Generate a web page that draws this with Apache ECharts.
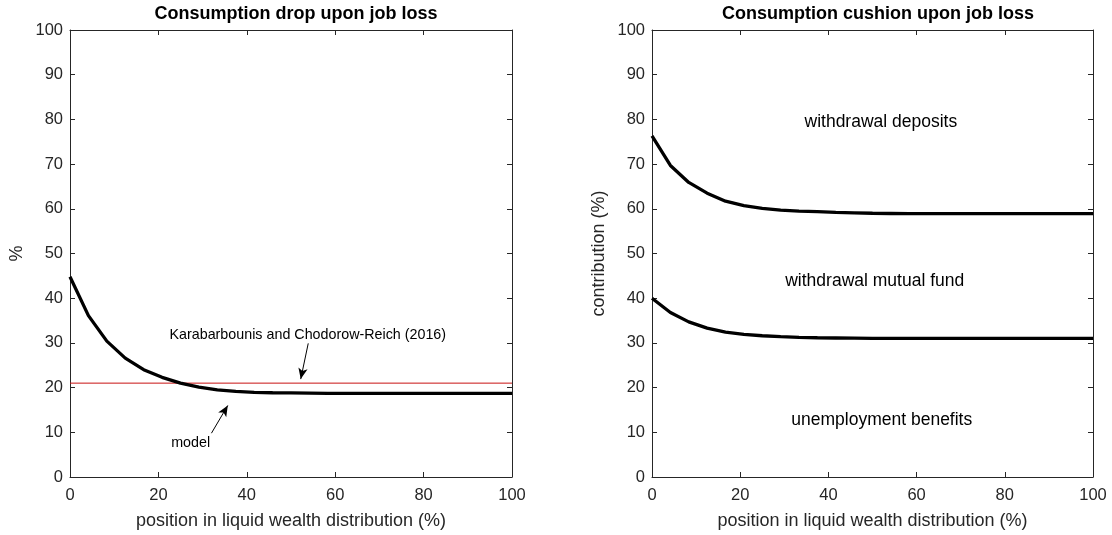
<!DOCTYPE html>
<html>
<head>
<meta charset="utf-8">
<script src="https://cdn.jsdelivr.net/npm/echarts@6/dist/echarts.min.js"></script>
<style>
  html, body { margin: 0; padding: 0; background: #fff; }
  #chart { width: 1112px; height: 535px; }
</style>
</head>
<body>
<div id="chart"></div>
<script>
// Position in the liquid wealth distribution (%)
const positions = [0, 4.17, 8.33, 12.5, 16.67, 20.83, 25, 29.17, 33.33, 37.5, 41.67, 45.83,
  50, 54.17, 58.33, 62.5, 66.67, 70.83, 75, 79.17, 83.33, 87.5, 91.67, 95.83, 100];

// Model consumption drop upon job loss (%)
const consumptionDrop = [44.8, 36.1, 30.4, 26.6, 24.0, 22.3, 21.0, 20.1, 19.5, 19.15, 18.95, 18.85,
  18.8, 18.75, 18.7, 18.7, 18.7, 18.7, 18.7, 18.7, 18.7, 18.7, 18.7, 18.7, 18.7];

// Empirical estimate, Karabarbounis and Chodorow-Reich (2016)
const empiricalDrop = 21;

// Cumulative contributions to the consumption cushion (%)
// upper boundary: benefits + mutual fund withdrawals; lower boundary: benefits
const cushionUpper = [76.3, 69.7, 65.9, 63.5, 61.7, 60.7, 60.1, 59.7, 59.5, 59.35, 59.2, 59.1,
  59.0, 58.95, 58.9, 58.9, 58.9, 58.9, 58.9, 58.9, 58.9, 58.9, 58.9, 58.9, 58.9];
const cushionLower = [40.0, 36.8, 34.7, 33.3, 32.4, 31.9, 31.6, 31.4, 31.25, 31.15, 31.1, 31.05,
  31.0, 31.0, 31.0, 31.0, 31.0, 31.0, 31.0, 31.0, 31.0, 31.0, 31.0, 31.0, 31.0];

const xTicks = [0, 20, 40, 60, 80, 100];
const yTicks = [0, 10, 20, 30, 40, 50, 60, 70, 80, 90, 100];

// Annotations: [x, y, text]
const dropNotes = [
  [53.8, 31.8, 'Karabarbounis and Chodorow-Reich (2016)'],
  [27.3, 7.6, 'model']
];
// Arrows: [fromX, fromY, toX, toY]
const dropArrows = [
  [53.9, 29.9, 52.2, 21.9],
  [32.0, 9.8, 35.7, 16.0]
];
const cushionNotes = [
  [51.9, 79.4, 'withdrawal deposits'],
  [50.5, 43.8, 'withdrawal mutual fund'],
  [52.1, 12.75, 'unemployment benefits']
];

const FONT = '"Liberation Sans", Arial, Helvetica, sans-serif';
const INK = '#262626';

const pair = (ys) => positions.map((x, i) => [x, ys[i]]);

function xAxisFor(gridIndex, bottom) {
  return {
    type: 'value', gridIndex, min: xTicks[0], max: xTicks[xTicks.length - 1], interval: 20,
    position: bottom ? 'bottom' : 'top',
    name: bottom ? 'position in liquid wealth distribution (%)' : '',
    nameLocation: 'middle', nameGap: 35,
    nameTextStyle: { fontFamily: FONT, fontSize: 18, color: INK },
    axisLine: { show: true, onZero: false, lineStyle: { color: INK, width: 1 } },
    axisTick: { show: true, inside: true, length: 5, lineStyle: { color: INK } },
    axisLabel: { show: bottom, fontFamily: FONT, fontSize: 16.5, color: INK, margin: 10 },
    splitLine: { show: false }
  };
}

function yAxisFor(gridIndex, left, name) {
  return {
    type: 'value', gridIndex, min: yTicks[0], max: yTicks[yTicks.length - 1], interval: 10,
    position: left ? 'left' : 'right',
    name: left ? name : '',
    nameLocation: 'middle', nameGap: 44,
    nameTextStyle: { fontFamily: FONT, fontSize: 18, color: INK },
    axisLine: { show: true, onZero: false, lineStyle: { color: INK, width: 1 } },
    axisTick: { show: true, inside: true, length: 5, lineStyle: { color: INK } },
    axisLabel: { show: left, fontFamily: FONT, fontSize: 16.5, color: INK, margin: 7 },
    splitLine: { show: false }
  };
}

function notesSeries(xi, yi, notes, size) {
  return {
    type: 'scatter', xAxisIndex: xi, yAxisIndex: yi, symbolSize: 0, silent: true,
    itemStyle: { opacity: 1, color: 'transparent' },
    data: notes.map(n => ({ value: [n[0], n[1]], name: n[2] })),
    label: { show: true, position: 'inside', formatter: '{b}', color: '#000', opacity: 1,
      fontFamily: FONT, fontSize: size },
    z: 5
  };
}

const option = {
  animation: false,
  backgroundColor: '#fff',
  title: [
    { text: 'Consumption drop upon job loss', left: 291, top: 0, textAlign: 'center',
      textStyle: { fontFamily: FONT, fontSize: 18, fontWeight: 'bold', color: '#000' } },
    { text: 'Consumption cushion upon job loss', left: 873, top: 0, textAlign: 'center',
      textStyle: { fontFamily: FONT, fontSize: 18, fontWeight: 'bold', color: '#000' } }
  ],
  grid: [
    { left: 70, top: 30, width: 442, height: 447 },
    { left: 652, top: 30, width: 441, height: 447 }
  ],
  xAxis: [xAxisFor(0, true), xAxisFor(0, false), xAxisFor(1, true), xAxisFor(1, false)],
  yAxis: [yAxisFor(0, true, '%'), yAxisFor(0, false), yAxisFor(1, true, 'contribution (%)'), yAxisFor(1, false)],
  series: [
    {
      type: 'line', xAxisIndex: 0, yAxisIndex: 0, data: [[0, empiricalDrop], [100, empiricalDrop]],
      showSymbol: false, lineStyle: { color: '#c81010', width: 1 }, z: 2
    },
    {
      type: 'line', xAxisIndex: 0, yAxisIndex: 0, data: pair(consumptionDrop),
      showSymbol: false, lineStyle: { color: '#000', width: 3.3 }, z: 3
    },
    {
      // annotation arrows drawn as mark lines with an arrow head at the far end
      type: 'line', xAxisIndex: 0, yAxisIndex: 0, data: [], silent: true,
      markLine: {
        silent: true, animation: false,
        symbol: ['none', 'arrow'], symbolSize: [7, 11],
        lineStyle: { color: '#000', width: 1, type: 'solid' },
        itemStyle: { color: '#000' },
        label: { show: false },
        data: dropArrows.map(a => [{ coord: [a[0], a[1]] }, { coord: [a[2], a[3]] }])
      },
      z: 4
    },
    notesSeries(0, 0, dropNotes, 14.3),
    {
      type: 'line', xAxisIndex: 2, yAxisIndex: 2, data: pair(cushionUpper),
      showSymbol: false, lineStyle: { color: '#000', width: 3.3 }, z: 3
    },
    {
      type: 'line', xAxisIndex: 2, yAxisIndex: 2, data: pair(cushionLower),
      showSymbol: false, lineStyle: { color: '#000', width: 3.3 }, z: 3
    },
    notesSeries(2, 2, cushionNotes, 17.5)
  ]
};

const chart = echarts.init(document.getElementById('chart'), null, { renderer: 'canvas' });
chart.setOption(option);
</script>
</body>
</html>
